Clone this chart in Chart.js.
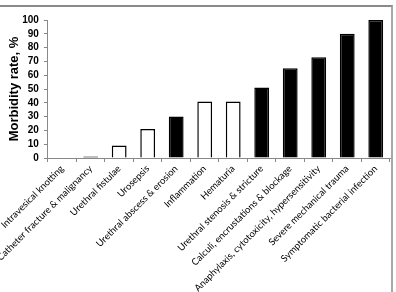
<!DOCTYPE html>
<html>
<head>
<meta charset="utf-8">
<script src="https://cdn.jsdelivr.net/npm/chart.js@4"></script>
<style>
  body { margin: 0; background: #fff; }
  #wrap { position: relative; width: 396px; height: 292px; }
  #frame { position: absolute; left: 0; top: 5px; width: 393px; height: 287px;
           border-top: 2px solid #8a8a8a; border-right: 2px solid #a8a8a8; box-sizing: border-box; }
  canvas { position: absolute; left: 0; top: 0; }
</style>
</head>
<body>
<div id="wrap">
  <div id="frame"></div>
  <canvas id="chartMorbidade" width="396" height="292"></canvas>
</div>
<script>
const categorias = [
    'Intravesical knotting',
    'Catheter fracture & malignancy',
    'Urethral fistulae',
    'Urosepsis',
    'Urethral abscess & erosion',
    'Inflammation',
    'Hematuria',
    'Urethral stenosis & stricture',
    'Calculi, encrustations & blockage',
    'Anaphylaxis, cytotoxicity, hypersensitivity',
    'Severe mechanical trauma',
    'Symptomatic bacterial infection'
];
const taxas = [0, 1, 9, 21, 30, 41, 41, 51, 65, 73, 90, 100];
// 'aberto' = barra branca, 'cheio' = barra preta
const grupos = ['cheio', 'cheio', 'aberto', 'aberto', 'cheio', 'aberto', 'aberto',
                'cheio', 'cheio', 'cheio', 'cheio', 'cheio'];
const ticksY = [0, 10, 20, 30, 40, 50, 60, 70, 80, 90, 100];

let chartMorbidade;

const initChartMorbidade = () => {
    const ctx = document.getElementById('chartMorbidade').getContext('2d');
    chartMorbidade = new Chart(ctx, {
        type: 'bar',
        data: {
            labels: categorias,
            datasets: [{
                data: taxas,
                backgroundColor: grupos.map(g => g === 'aberto' ? '#ffffff' : '#000000'),
                borderColor: '#000000',
                borderWidth: 1.5,
                borderSkipped: 'start',
                categoryPercentage: 1,
                barPercentage: 0.52
            }]
        },
        options: {
            responsive: false,
            animation: false,
            events: [],
            layout: { padding: { top: 20, right: 6, left: 4, bottom: 0 } },
            plugins: { legend: { display: false }, tooltip: { enabled: false } },
            scales: {
                x: {
                    grid: { display: true, drawOnChartArea: false, drawTicks: true, tickLength: 4, color: '#888', offset: true },
                    border: { color: '#888' },
                    ticks: {
                        autoSkip: false,
                        maxRotation: 45,
                        minRotation: 45,
                        padding: 1,
                        color: '#000',
                        font: { family: 'Lato', size: 9.5 }
                    },
                    afterFit: (scale) => { scale.height = 134; }
                },
                y: {
                    min: 0,
                    max: 100,
                    afterBuildTicks: (scale) => { scale.ticks = ticksY.map(v => ({ value: v })); },
                    grid: { display: true, drawOnChartArea: false, drawTicks: true, tickLength: 4, color: '#888' },
                    border: { color: '#888' },
                    ticks: {
                        autoSkip: false,
                        padding: 5,
                        color: '#000',
                        font: { family: 'Liberation Sans', size: 10, weight: 'bold' }
                    },
                    title: {
                        display: true,
                        text: 'Morbidity rate, %',
                        color: '#000',
                        padding: { top: 0, bottom: 2 },
                        font: { family: 'Liberation Sans', size: 13, weight: 'bold' }
                    },
                    afterFit: (scale) => { scale.width = 41; }
                }
            }
        }
    });
};

initChartMorbidade();
</script>
</body>
</html>
